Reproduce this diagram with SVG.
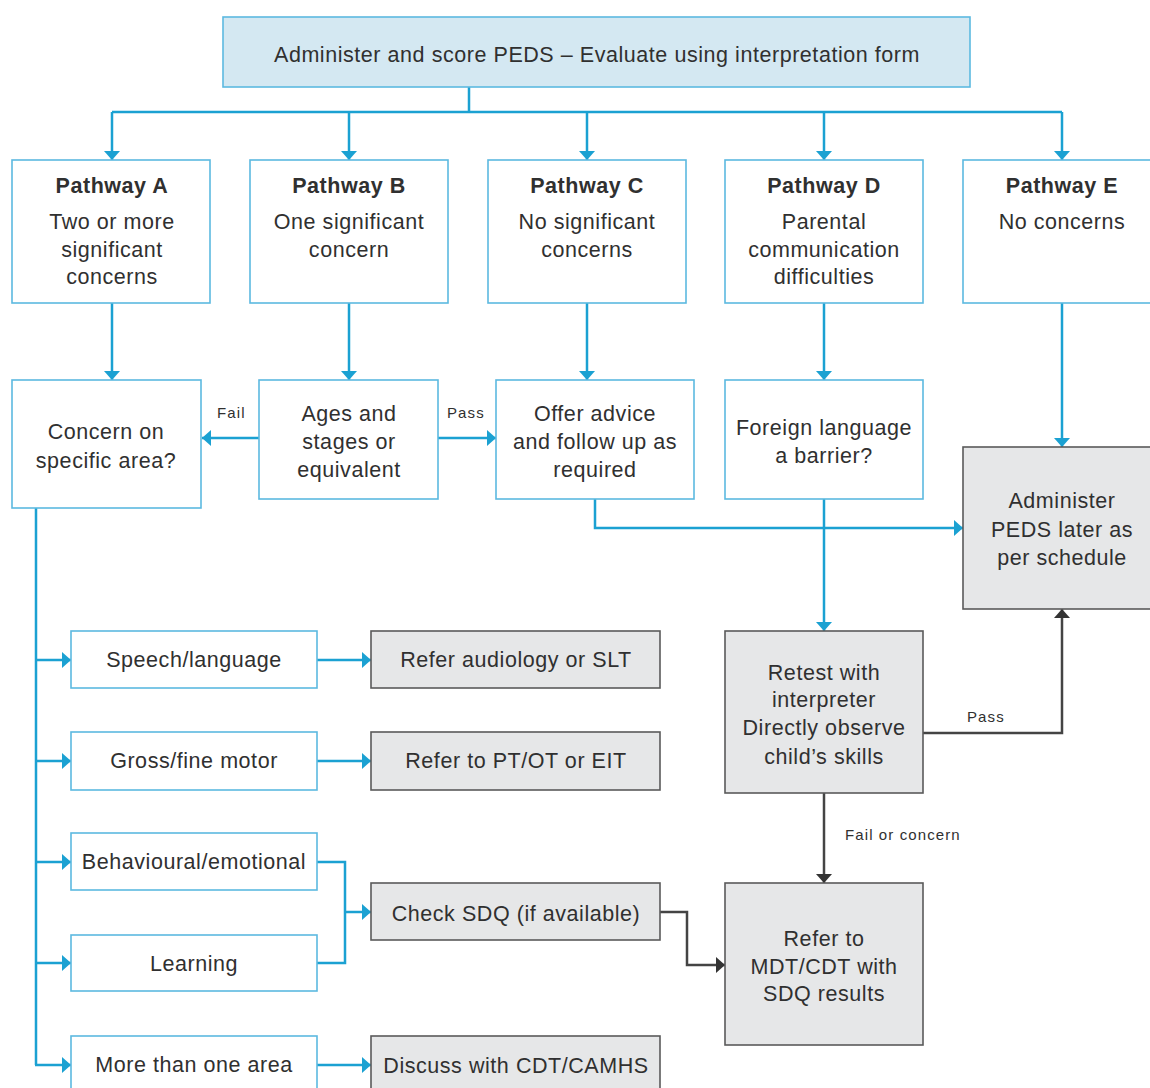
<svg xmlns="http://www.w3.org/2000/svg" width="1150" height="1088" viewBox="0 0 1150 1088">
<style>
.bx{fill:#ffffff;stroke:#5cb9e0;stroke-width:1.6}
.top{fill:#d4e8f2;stroke:#5cb9e0;stroke-width:1.6}
.gr{fill:#e6e7e8;stroke:#5a5a5a;stroke-width:1.6}
.t{font-family:"Liberation Sans",Arial,sans-serif;font-size:21.5px;fill:#303030;text-anchor:middle;letter-spacing:0.55px}
.b{font-weight:bold}
.s{font-family:"Liberation Sans",Arial,sans-serif;font-size:15px;fill:#303030;letter-spacing:1.1px}
.cb{fill:none;stroke:#1ba1d2;stroke-width:2.5}
.cd{fill:none;stroke:#444444;stroke-width:2.5}
</style>
<defs>
<marker id="ab" viewBox="0 0 9 16" refX="9" refY="8" markerWidth="9" markerHeight="16" orient="auto" markerUnits="userSpaceOnUse"><path d="M0,0 L9,8 L0,16 z" fill="#1ba1d2"/></marker>
<marker id="ad" viewBox="0 0 9 16" refX="9" refY="8" markerWidth="9" markerHeight="16" orient="auto" markerUnits="userSpaceOnUse"><path d="M0,0 L9,8 L0,16 z" fill="#333333"/></marker>
</defs>
<rect width="1150" height="1088" fill="#ffffff"/>
<g id="connectors">
<path class="cb" d="M469,87 V112 M112,112 H1062"/>
<path class="cb" d="M112,112 V160" marker-end="url(#ab)"/>
<path class="cb" d="M349,112 V160" marker-end="url(#ab)"/>
<path class="cb" d="M587,112 V160" marker-end="url(#ab)"/>
<path class="cb" d="M824,112 V160" marker-end="url(#ab)"/>
<path class="cb" d="M1062,112 V160" marker-end="url(#ab)"/>
<path class="cb" d="M112,303 V380" marker-end="url(#ab)"/>
<path class="cb" d="M349,303 V380" marker-end="url(#ab)"/>
<path class="cb" d="M587,303 V380" marker-end="url(#ab)"/>
<path class="cb" d="M824,303 V380" marker-end="url(#ab)"/>
<path class="cb" d="M1062,303 V447" marker-end="url(#ab)"/>
<path class="cb" d="M259,438 H202" marker-end="url(#ab)"/>
<path class="cb" d="M438,438 H496" marker-end="url(#ab)"/>
<path class="cb" d="M595,499 V528 H963" marker-end="url(#ab)"/>
<path class="cb" d="M824,499 V631" marker-end="url(#ab)"/>
<path class="cb" d="M36,508 V1065"/>
<path class="cb" d="M35,660 H71" marker-end="url(#ab)"/>
<path class="cb" d="M35,761 H71" marker-end="url(#ab)"/>
<path class="cb" d="M35,862 H71" marker-end="url(#ab)"/>
<path class="cb" d="M35,963 H71" marker-end="url(#ab)"/>
<path class="cb" d="M35,1065 H71" marker-end="url(#ab)"/>
<path class="cb" d="M317,660 H371" marker-end="url(#ab)"/>
<path class="cb" d="M317,761 H371" marker-end="url(#ab)"/>
<path class="cb" d="M317,1065 H371" marker-end="url(#ab)"/>
<path class="cb" d="M317,862 H345 V963 H317"/>
<path class="cb" d="M345,912 H371" marker-end="url(#ab)"/>
<path class="cd" d="M923,733 H1062 V609" marker-end="url(#ad)"/>
<path class="cd" d="M824,793 V883" marker-end="url(#ad)"/>
<path class="cd" d="M660,912 H687 V965 H725" marker-end="url(#ad)"/>
<text class="s" x="217" y="418">Fail</text>
<text class="s" x="447" y="418">Pass</text>
<text class="s" x="967" y="722">Pass</text>
<text class="s" x="845" y="840">Fail or concern</text>
</g>
<g id="n-top"><rect class="top" x="223" y="17" width="747" height="70"/><text class="t" x="597" y="62">Administer and score PEDS – Evaluate using interpretation form</text></g>
<g id="n-pa"><rect class="bx" x="12" y="160" width="198" height="143"/><text class="t b" x="112" y="193">Pathway A</text><text class="t" x="112" y="229">Two or more</text><text class="t" x="112" y="257">significant</text><text class="t" x="112" y="284">concerns</text></g>
<g id="n-pb"><rect class="bx" x="250" y="160" width="198" height="143"/><text class="t b" x="349" y="193">Pathway B</text><text class="t" x="349" y="229">One significant</text><text class="t" x="349" y="257">concern</text></g>
<g id="n-pc"><rect class="bx" x="488" y="160" width="198" height="143"/><text class="t b" x="587" y="193">Pathway C</text><text class="t" x="587" y="229">No significant</text><text class="t" x="587" y="257">concerns</text></g>
<g id="n-pd"><rect class="bx" x="725" y="160" width="198" height="143"/><text class="t b" x="824" y="193">Pathway D</text><text class="t" x="824" y="229">Parental</text><text class="t" x="824" y="257">communication</text><text class="t" x="824" y="284">difficulties</text></g>
<g id="n-pe"><rect class="bx" x="963" y="160" width="198" height="143"/><text class="t b" x="1062" y="193">Pathway E</text><text class="t" x="1062" y="229">No concerns</text></g>
<g id="n-concern"><rect class="bx" x="12" y="380" width="189" height="128"/><text class="t" x="106" y="439">Concern on</text><text class="t" x="106" y="468">specific area?</text></g>
<g id="n-ages"><rect class="bx" x="259" y="380" width="179" height="119"/><text class="t" x="349" y="421">Ages and</text><text class="t" x="349" y="449">stages or</text><text class="t" x="349" y="477">equivalent</text></g>
<g id="n-offer"><rect class="bx" x="496" y="380" width="198" height="119"/><text class="t" x="595" y="421">Offer advice</text><text class="t" x="595" y="449">and follow up as</text><text class="t" x="595" y="477">required</text></g>
<g id="n-foreign"><rect class="bx" x="725" y="380" width="198" height="119"/><text class="t" x="824" y="435">Foreign language</text><text class="t" x="824" y="463">a barrier?</text></g>
<g id="n-later"><rect class="gr" x="963" y="447" width="198" height="162"/><text class="t" x="1062" y="508">Administer</text><text class="t" x="1062" y="537">PEDS later as</text><text class="t" x="1062" y="565">per schedule</text></g>
<g id="n-retest"><rect class="gr" x="725" y="631" width="198" height="162"/><text class="t" x="824" y="680">Retest with</text><text class="t" x="824" y="707">interpreter</text><text class="t" x="824" y="735">Directly observe</text><text class="t" x="824" y="764">child’s skills</text></g>
<g id="n-mdt"><rect class="gr" x="725" y="883" width="198" height="162"/><text class="t" x="824" y="946">Refer to</text><text class="t" x="824" y="974">MDT/CDT with</text><text class="t" x="824" y="1001">SDQ results</text></g>
<g id="n-speech"><rect class="bx" x="71" y="631" width="246" height="57"/><text class="t" x="194" y="667">Speech/language</text></g>
<g id="n-motor"><rect class="bx" x="71" y="732" width="246" height="58"/><text class="t" x="194" y="768">Gross/fine motor</text></g>
<g id="n-behav"><rect class="bx" x="71" y="833" width="246" height="57"/><text class="t" x="194" y="869">Behavioural/emotional</text></g>
<g id="n-learning"><rect class="bx" x="71" y="935" width="246" height="56"/><text class="t" x="194" y="971">Learning</text></g>
<g id="n-more"><rect class="bx" x="71" y="1036" width="246" height="60"/><text class="t" x="194" y="1072">More than one area</text></g>
<g id="n-audio"><rect class="gr" x="371" y="631" width="289" height="57"/><text class="t" x="516" y="667">Refer audiology or SLT</text></g>
<g id="n-pt"><rect class="gr" x="371" y="732" width="289" height="58"/><text class="t" x="516" y="768">Refer to PT/OT or EIT</text></g>
<g id="n-sdq"><rect class="gr" x="371" y="883" width="289" height="57"/><text class="t" x="516" y="921">Check SDQ (if available)</text></g>
<g id="n-discuss"><rect class="gr" x="371" y="1036" width="289" height="60"/><text class="t" x="516" y="1073">Discuss with CDT/CAMHS</text></g>
</svg>
